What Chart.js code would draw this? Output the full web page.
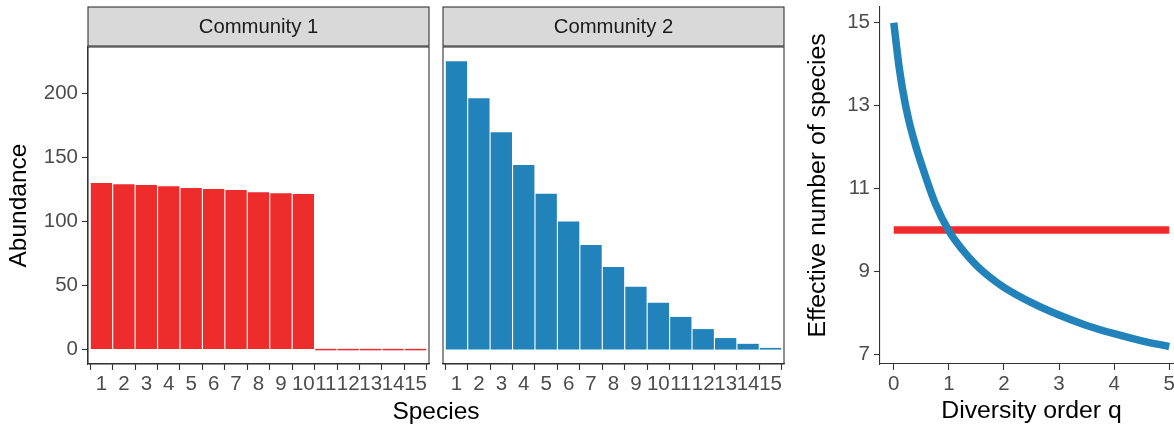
<!DOCTYPE html>
<html>
<head>
<meta charset="utf-8">
<script src="https://cdn.jsdelivr.net/npm/chart.js@4.4.1/dist/chart.umd.min.js"></script>
<style>
    body {
        margin: 0;
        width: 1174px;
        height: 427px;
        overflow: hidden;
        position: relative;
        background: #ffffff;
        font-family: "Liberation Sans", Arial, sans-serif;
    }

    canvas {
        position: absolute;
        top: 0;
    }

    #comm1 { left: 0; }
    #comm2 { left: 440px; }
    #hill { left: 790px; }

    #species {
        position: absolute;
        left: 336px;
        width: 200px;
        top: 397px;
        text-align: center;
        font-size: 24.5px;
        line-height: 28px;
        color: #000000;
    }
</style>
</head>
<body>
<canvas id="comm1" width="440" height="427"></canvas>
<canvas id="comm2" width="350" height="427"></canvas>
<canvas id="hill" width="393" height="427"></canvas>
<div id="species">Species</div>

<script>
// Dati
const species = [1, 2, 3, 4, 5, 6, 7, 8, 9, 10, 11, 12, 13, 14, 15];
const community1 = [130, 129, 128.3, 127.5, 126, 125.2, 124.4, 122.8, 122, 121.3, 0, 0, 0, 0, 0];
const community2 = [225, 196, 169.5, 144, 121.5, 100, 81.5, 64.5, 49, 36.5, 25.5, 16, 9, 4.5, 1.3];
const abundanceTicks = [0, 50, 100, 150, 200];

const qValues = [0, 0.1, 0.2, 0.3, 0.4, 0.5, 0.75, 1, 1.25, 1.5, 1.75, 2, 2.5, 3, 3.5, 4, 4.5, 5];
const hill2 = [15, 13.9, 13.1, 12.5, 12.02, 11.6, 10.65, 9.98, 9.52, 9.15, 8.86, 8.62, 8.25, 7.95, 7.7, 7.5, 7.33, 7.19];
const qFlat = [0, 5];
const hill1 = [10, 10];
const qTicks = [0, 1, 2, 3, 4, 5];
const hillTicks = [7, 9, 11, 13, 15];

const rosso = '#ee2c2c';
const blu = '#2283ba';
const scuro = '#333333';
const grigioTesto = '#4d4d4d';

Chart.defaults.font.family = '"Liberation Sans", Arial, sans-serif';

// Cornice del pannello e striscia con il titolo (stile facet)
const pannello = {
    id: 'pannello',
    afterDraw(chart, args, opts) {
        const ctx = chart.ctx;
        const a = chart.chartArea;
        ctx.save();
        ctx.strokeStyle = scuro;
        ctx.lineWidth = 1.1;
        ctx.strokeRect(a.left, a.top, a.right - a.left, a.bottom - a.top);
        ctx.fillStyle = '#d9d9d9';
        ctx.fillRect(a.left, 7, a.right - a.left, 39);
        ctx.strokeRect(a.left, 7, a.right - a.left, 39);
        ctx.fillStyle = '#1a1a1a';
        ctx.font = '20.3px "Liberation Sans", Arial, sans-serif';
        ctx.textAlign = 'center';
        ctx.textBaseline = 'middle';
        ctx.fillText(opts.text, (a.left + a.right) / 2, 27);
        ctx.restore();
    }
};

// niente spazio extra per le etichette agli estremi
function senzaPadding(ax) {
    ax.paddingTop = 0;
    ax.paddingBottom = 0;
    ax.paddingLeft = 0;
    ax.paddingRight = 0;
}

function pannelloBarre(id, values, colore, titolo, showY, yWidth, padLeft, padRight) {
    return new Chart(document.getElementById(id), {
        type: 'bar',
        data: {
            datasets: [{
                data: species.map((s, i) => ({ x: s, y: values[i] })),
                backgroundColor: colore,
                barPercentage: 0.95,
                categoryPercentage: 1,
                minBarLength: 1.5
            }]
        },
        options: {
            responsive: false,
            animation: false,
            devicePixelRatio: 1,
            layout: { padding: { top: 47, left: padLeft, right: padRight, bottom: 0 } },
            plugins: {
                legend: { display: false },
                tooltip: { enabled: false },
                pannello: { text: titolo }
            },
            scales: {
                x: {
                    type: 'linear',
                    min: 0.4,
                    max: 15.6,
                    offset: false,
                    afterBuildTicks: (ax) => { ax.ticks = species.map(v => ({ value: v })); },
                    afterFit: (ax) => { ax.height = 63; senzaPadding(ax); },
                    ticks: { autoSkip: false, maxRotation: 0, color: grigioTesto, font: { size: 20.5 }, padding: 2 },
                    grid: { drawOnChartArea: false, tickLength: 6, color: scuro, tickWidth: 1.1 },
                    border: { color: scuro, width: 1.1 }
                },
                y: {
                    display: showY,
                    min: -11.24,
                    max: 236.04,
                    afterBuildTicks: (ax) => { ax.ticks = abundanceTicks.map(v => ({ value: v })); },
                    afterFit: (ax) => { ax.width = yWidth; senzaPadding(ax); },
                    title: {
                        display: true,
                        text: 'Abundance',
                        color: '#000000',
                        font: { size: 24.5, lineHeight: 1 },
                        padding: { top: 7, bottom: 0 }
                    },
                    ticks: { color: grigioTesto, font: { size: 20.5 }, padding: 4 },
                    grid: { drawOnChartArea: false, tickLength: 6, color: scuro, tickWidth: 1.1 },
                    border: { color: scuro, width: 1.1 }
                }
            }
        },
        plugins: [pannello]
    });
}

pannelloBarre('comm1', community1, rosso, 'Community 1', true, 88, 0, 11);
pannelloBarre('comm2', community2, blu, 'Community 2', false, 0, 3, 6);

// Profilo di diversità
new Chart(document.getElementById('hill'), {
    type: 'line',
    data: {
        datasets: [
            {
                label: 'Community 2',
                data: qValues.map((q, i) => ({ x: q, y: hill2[i] })),
                borderColor: blu,
                borderWidth: 7.5,
                borderCapStyle: 'butt',
                pointRadius: 0,
                cubicInterpolationMode: 'monotone',
                fill: false
            },
            {
                label: 'Community 1',
                data: qFlat.map((q, i) => ({ x: q, y: hill1[i] })),
                borderColor: rosso,
                borderWidth: 7.5,
                borderCapStyle: 'butt',
                pointRadius: 0,
                fill: false
            }
        ]
    },
    options: {
        responsive: false,
        animation: false,
        devicePixelRatio: 1,
        layout: { padding: { top: 7, left: 0, right: 0, bottom: 0 } },
        plugins: {
            legend: { display: false },
            tooltip: { enabled: false }
        },
        scales: {
            x: {
                type: 'linear',
                min: -0.25,
                max: 5.25,
                afterBuildTicks: (ax) => { ax.ticks = qTicks.map(v => ({ value: v })); },
                afterFit: (ax) => { ax.height = 63; senzaPadding(ax); },
                title: {
                    display: true,
                    text: 'Diversity order q',
                    color: '#000000',
                    font: { size: 24.8, lineHeight: 1 },
                    padding: { top: 0, bottom: 3 }
                },
                ticks: { autoSkip: false, maxRotation: 0, color: grigioTesto, font: { size: 20.5 }, padding: 2 },
                grid: { drawOnChartArea: false, tickLength: 6, color: scuro, tickWidth: 1.1 },
                border: { color: scuro, width: 1.1 }
            },
            y: {
                min: 6.77,
                max: 15.38,
                afterBuildTicks: (ax) => { ax.ticks = hillTicks.map(v => ({ value: v })); },
                afterFit: (ax) => { ax.width = 90; senzaPadding(ax); },
                title: {
                    display: true,
                    text: 'Effective number of species',
                    color: '#000000',
                    font: { size: 24.8, lineHeight: 1 },
                    padding: { top: 16, bottom: 0 }
                },
                ticks: { color: grigioTesto, font: { size: 20.5 }, padding: 4 },
                grid: { drawOnChartArea: false, tickLength: 6, color: scuro, tickWidth: 1.1 },
                border: { color: scuro, width: 1.1 }
            }
        }
    }
});
</script>
</body>
</html>
